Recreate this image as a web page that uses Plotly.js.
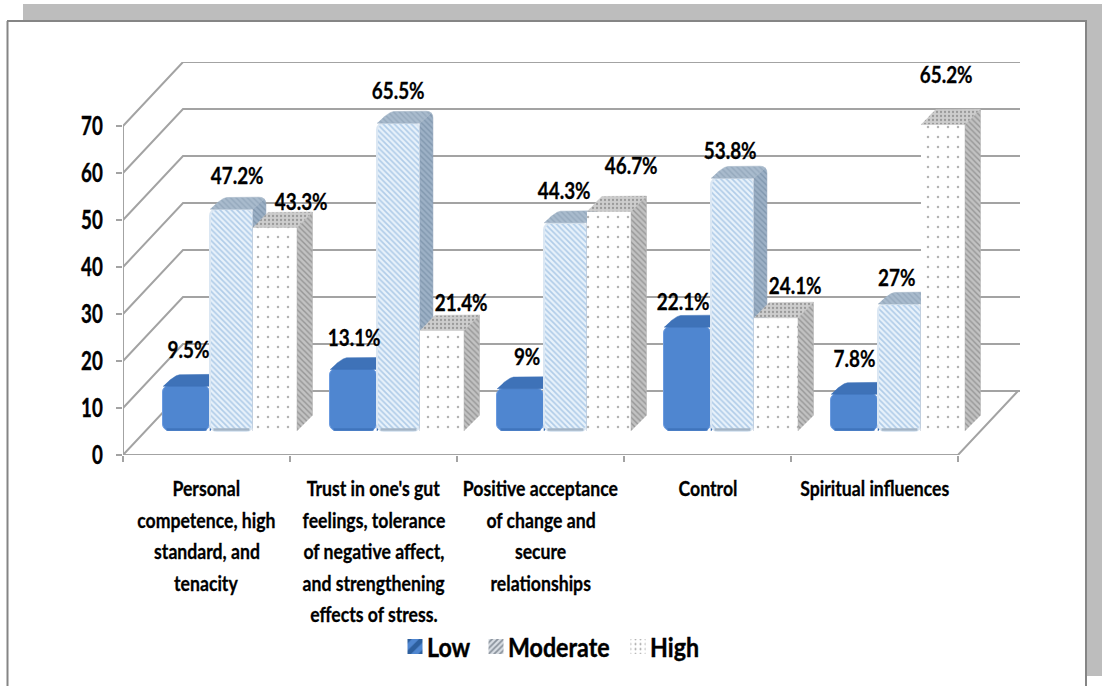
<!DOCTYPE html>
<html>
<head>
<meta charset="utf-8">
<script src="https://cdn.plot.ly/plotly-3.0.1.min.js"></script>
<style>html,body{margin:0;padding:0;background:#fff}#chart{width:1102px;height:686px}</style>
</head>
<body>
<div id="chart"></div>
<script>
// Survey results per resilience factor, in percent
const categoryLines = [
  ["Personal", "competence, high", "standard, and", "tenacity"],
  ["Trust in one's gut", "feelings, tolerance", "of negative affect,", "and strengthening", "effects of stress."],
  ["Positive acceptance", "of change and", "secure", "relationships"],
  ["Control"],
  ["Spiritual influences"]
];
const low = [9.5, 13.1, 9, 22.1, 7.8];
const moderate = [47.2, 65.5, 44.3, 53.8, 27];
const high = [43.3, 21.4, 46.7, 24.1, 65.2];
const seriesNames = ["Low", "Moderate", "High"];
const tickValues = [0, 10, 20, 30, 40, 50, 60, 70];

// Value-label nudges in pixels, measured from the top centre of each bar's front face
const lowLabelShift = [[1.5, 37], [0.5, 32], [6.5, 33], [-4.5, 26], [0, 36]];
const moderateLabelShift = [[5.5, 34], [0, 33], [-1.5, 33], [-2.5, 28], [-2.5, 27]];
const highLabelShift = [[26, 26.5], [19, 28], [22, 46.5], [19, 33], [3, 50.5]];

// Plot frame in pixels; the oblique projection below is expressed in axis units
const frame = {left: 123, right: 1020, top: 62, bottom: 455};
const pxPerCat = 167, pxPerUnit = 4.7;
const xMax = (frame.right - frame.left) / pxPerCat;
const yMax = (frame.bottom - frame.top) / pxPerUnit;
const wallDx = 60 / pxPerCat, wallDy = 64 / pxPerUnit;
const floorY = 24 / pxPerUnit;
const fx = px => (px - frame.left) / (frame.right - frame.left);
const fy = py => (frame.bottom - py) / (frame.bottom - frame.top);

// Axis lines and the back-wall grid
const wallX = [], wallY = [];
const seg = pts => { pts.forEach(p => { wallX.push(p[0]); wallY.push(p[1]); }); wallX.push(null); wallY.push(null); };
tickValues.forEach(v => seg([[0, v], [wallDx, v + wallDy], [xMax, v + wallDy]]));
seg([[0, 0], [0, 70]]);
seg([[0, 0], [5, 0], [5 + wallDx, wallDy]]);

const wall = {
  x: wallX, y: wallY, mode: "lines", type: "scatter", showlegend: false, hoverinfo: "skip",
  line: {color: "#a3a3a3", width: 2}
};

// Quadratic corner from a to b around c
const arc = (a, c, b) => [0, 0.25, 0.5, 0.75, 1].map(t => [
  (1 - t) * (1 - t) * a[0] + 2 * t * (1 - t) * c[0] + t * t * b[0],
  (1 - t) * (1 - t) * a[1] + 2 * t * (1 - t) * c[1] + t * t * b[1]
]);

// Builds the visible faces of one series: the front as bars, top and side as polygons
function series(name, values, cfg, axisId) {
  const width = cfg.right - cfg.left;
  const barDx = cfg.depthX / pxPerCat, barDy = cfg.depthY / pxPerUnit;
  const topX = [], topY = [], sideX = [], sideY = [], footX = [], footY = [];
  const rx = cfg.round / pxPerCat, ry = cfg.round / pxPerUnit;
  const push = (xs, ys, pts) => { pts.forEach(p => { xs.push(p[0]); ys.push(p[1]); }); xs.push(null); ys.push(null); };
  values.forEach((v, i) => {
    const L = i + cfg.left, R = i + cfg.right, T = floorY + v, B = floorY;
    const backL = [L + barDx, T + barDy], backR = [R + barDx, T + barDy];
    const arcR = arc([backR[0] - rx, backR[1]], backR, [backR[0], backR[1] - ry]);
    const arcL = arc([backL[0] - 0.5 * barDx, backL[1] - 0.5 * barDy], backL, [backL[0] + rx, backL[1]]);
    push(topX, topY, [[L, T], [R, T]].concat([arcR[2], arcR[1], arcR[0]], arcL.slice().reverse()));
    push(sideX, sideY, [[R, B], [R, T]].concat(arcR.slice(2), [[R + barDx, B + barDy]]));
    push(footX, footY, [[L + rx * 0.5, B + 0.3], [R - rx * 0.5, B + 0.3]]);
  });
  const xa = "x" + axisId, ya = "y" + axisId;
  const poly = (x, y, f) => ({
    x, y, xaxis: xa, yaxis: ya, type: "scatter", mode: "lines", fill: "toself", showlegend: false,
    hoverinfo: "skip", line: {color: f.line, width: 0.5}, fillcolor: f.bg,
    fillpattern: {shape: f.shape, fgcolor: f.fg, bgcolor: f.bg, size: f.size, solidity: f.solidity, fillmode: "replace"}
  });
  const front = {
    type: "bar", name, showlegend: false, x: values.map((_, i) => i + (cfg.left + cfg.right) / 2),
    y: values, base: values.map(() => floorY), width: values.map(() => width),
    xaxis: xa, yaxis: ya,
    marker: {
      color: cfg.front.bg, cornerradius: cfg.round,
      line: {color: cfg.front.line, width: cfg.front.lineWidth},
      pattern: cfg.front.shape ? {shape: cfg.front.shape, fgcolor: cfg.front.fg, bgcolor: cfg.front.bg, size: cfg.front.size, solidity: cfg.front.solidity, fillmode: "replace"} : {}
    }
  };
  const faces = [front, poly(sideX, sideY, cfg.side), poly(topX, topY, cfg.top)];
  if (cfg.foot) faces.push({
    x: footX, y: footY, xaxis: xa, yaxis: ya, type: "scatter", mode: "lines", showlegend: false,
    hoverinfo: "skip", line: {color: cfg.foot, width: 2.5}
  });
  return faces;
}

const lowCfg = {
  left: 0.2395, right: 0.521, round: 7, depthX: 13, depthY: 12, foot: "#3f74bd",
  front: {bg: "#4f86d0", line: "#6b9be0", lineWidth: 1},
  side: {shape: "", bg: "#3a6cb0", fg: "#3a6cb0", line: "#3a6cb0", size: 6, solidity: 0.3},
  top: {shape: "", bg: "#3e72b8", fg: "#3e72b8", line: "#3e72b8", size: 6, solidity: 0.3}
};
const moderateCfg = {
  left: 0.521, right: 0.778, round: 7, depthX: 13, depthY: 12, foot: "#a3b4c6",
  front: {bg: "#e8f2fb", fg: "#b0cce8", line: "#dbe7f3", lineWidth: 2, shape: "\\", size: 4, solidity: 0.42},
  side: {shape: "\\", bg: "#9db1c6", fg: "#8097ae", line: "#8fa3b8", size: 4, solidity: 0.35},
  top: {shape: "\\", bg: "#a9bbcd", fg: "#94a8bc", line: "#a0b2c4", size: 4, solidity: 0.35}
};
const highCfg = {
  left: 0.778, right: 1.042, round: 0, depthX: 15.5, depthY: 15.5,
  front: {bg: "#ffffff", fg: "#b4b4b4", line: "#ffffff", lineWidth: 0, shape: ".", size: 10, solidity: 0.05},
  side: {shape: "\\", bg: "#c2c2c2", fg: "#969696", line: "#b0b0b0", size: 4, solidity: 0.35},
  top: {shape: ".", bg: "#cdcdcd", fg: "#9a9a9a", line: "#c0c0c0", size: 4, solidity: 0.25}
};

// Empty traces that only carry the legend swatches
const key = (name, marker) => ({type: "bar", name, x: [null], y: [null], marker, hoverinfo: "skip"});
const legendTraces = [
  key(seriesNames[0], {color: "#4f86d0", pattern: {shape: "/", fgcolor: "#2d5f9e", bgcolor: "#4f86d0", size: 22, solidity: 0.5, fillmode: "replace"}}),
  key(seriesNames[1], {color: "#c9d0d8", pattern: {shape: "/", fgcolor: "#8a929c", bgcolor: "#d9dee4", size: 4, solidity: 0.45, fillmode: "replace"}}),
  key(seriesNames[2], {color: "#ffffff", pattern: {shape: ".", fgcolor: "#9a9a9a", bgcolor: "#ffffff", size: 5, solidity: 0.12, fillmode: "replace"}})
];

const traces = [wall].concat(
  legendTraces,
  series(seriesNames[0], low, lowCfg, 2),
  series(seriesNames[1], moderate, moderateCfg, 3),
  series(seriesNames[2], high, highCfg, 4)
);

const bold = size => ({family: "Lato", size, color: "#000", weight: 700});

// Value labels and per-line category captions
const annotations = [];
[[low, lowCfg, lowLabelShift], [moderate, moderateCfg, moderateLabelShift], [high, highCfg, highLabelShift]].forEach(([vals, cfg, shift]) => {
  vals.forEach((v, i) => annotations.push({
    x: i + (cfg.left + cfg.right) / 2, y: floorY + v, xref: "x", yref: "y",
    xshift: shift[i][0], yshift: shift[i][1], text: v + "%", showarrow: false,
    xanchor: "center", yanchor: "middle", font: bold(23)
  }));
});
categoryLines.forEach((lines, i) => lines.forEach((t, k) => annotations.push({
  x: i + 0.5, y: 0, xref: "x", yref: "y", yshift: -(32.5 + k * 31.5), text: t,
  showarrow: false, xanchor: "center", yanchor: "middle", font: bold(21)
})));

// Page furniture around the chart: grey bands and the thin frame
const bandColor = "#bdbdbd", frameColor = "#858585";
const rect = (x0, y0, x1, y1) => ({type: "rect", xref: "paper", yref: "paper", x0: fx(x0), x1: fx(x1), y0: fy(y0), y1: fy(y1), fillcolor: bandColor, line: {width: 0}, layer: "below"});
const rule = (x0, y0, x1, y1) => ({type: "line", xref: "paper", yref: "paper", x0: fx(x0), x1: fx(x1), y0: fy(y0), y1: fy(y1), line: {color: frameColor, width: 2}, layer: "below"});

const hiddenX = {range: [0, xMax], overlaying: "x", visible: false, fixedrange: true};
const hiddenY = {range: [0, yMax], overlaying: "y", visible: false, fixedrange: true};

const layout = {
  width: 1102, height: 686, autosize: false,
  margin: {l: frame.left, r: 1102 - frame.right, t: frame.top, b: 686 - frame.bottom, pad: 0},
  paper_bgcolor: "#ffffff", plot_bgcolor: "rgba(0,0,0,0)",
  barmode: "overlay", bargap: 0,
  xaxis: {
    range: [0, xMax], showgrid: false, zeroline: false, showline: false, showticklabels: false,
    ticks: "", fixedrange: true,
    minor: {tickmode: "array", tickvals: [0, 1, 2, 3, 4, 5], ticks: "outside", ticklen: 6, tickwidth: 2, tickcolor: "#a3a3a3", showgrid: false}
  },
  yaxis: {
    range: [0, yMax], showgrid: false, zeroline: false, showline: false, tickmode: "array",
    tickvals: tickValues, ticks: "outside", ticklen: 6, tickwidth: 2, tickcolor: "#a3a3a3",
    ticklabelstandoff: 8, tickfont: bold(26), fixedrange: true
  },
  xaxis2: hiddenX, yaxis2: hiddenY, xaxis3: hiddenX, yaxis3: hiddenY, xaxis4: hiddenX, yaxis4: hiddenY,
  legend: {
    orientation: "h", x: fx(551), xanchor: "center", y: fy(647), yanchor: "middle",
    font: bold(27), bgcolor: "rgba(0,0,0,0)",
    itemclick: false, itemdoubleclick: false, itemwidth: 30
  },
  annotations,
  shapes: [
    rect(23, 4, 1102, 20), rect(1087, 4, 1102, 676),
    rule(7, 21, 1087, 21), rule(7.5, 21, 7.5, 686), rule(1086, 21, 1086, 686)
  ]
};

// The chart's type is a tall, narrow, heavy face: squeeze the glyphs and thicken them a little
const squeeze = (el, scale, stroke) => {
  el.setAttribute("textLength", el.getComputedTextLength() * scale);
  el.setAttribute("lengthAdjust", "spacingAndGlyphs");
  el.style.stroke = "#000";
  el.style.strokeWidth = stroke + "px";
};
const legendCentres = [415, 496, 638];

Plotly.newPlot("chart", traces, layout, {displayModeBar: false, responsive: false}).then(gd => {
  gd.querySelectorAll(".annotation-text").forEach(el => {
    if (el.textContent.endsWith("%")) squeeze(el, 0.82, 0.3); else squeeze(el, 0.84, 0.3);
  });
  gd.querySelectorAll(".ytick text").forEach(el => squeeze(el, 0.72, 0.4));
  gd.querySelectorAll(".legendtext").forEach(el => { squeeze(el, 0.86, 0.4); el.setAttribute("x", 32); });
  const origin = gd.querySelector(".legend").getCTM().e;
  gd.querySelectorAll(".legend .traces").forEach((el, i) => {
    const y = /,\s*([-\d.]+)\)/.exec(el.getAttribute("transform"))[1];
    el.setAttribute("transform", `translate(${legendCentres[i] - 20 - origin},${y})`);
    const sw = el.querySelector(".legendbar path, .legendfill path, .legendpoints path");
    if (sw) sw.setAttribute("transform", (sw.getAttribute("transform") || "") + " scale(1.25)");
  });
});
</script>
</body>
</html>
